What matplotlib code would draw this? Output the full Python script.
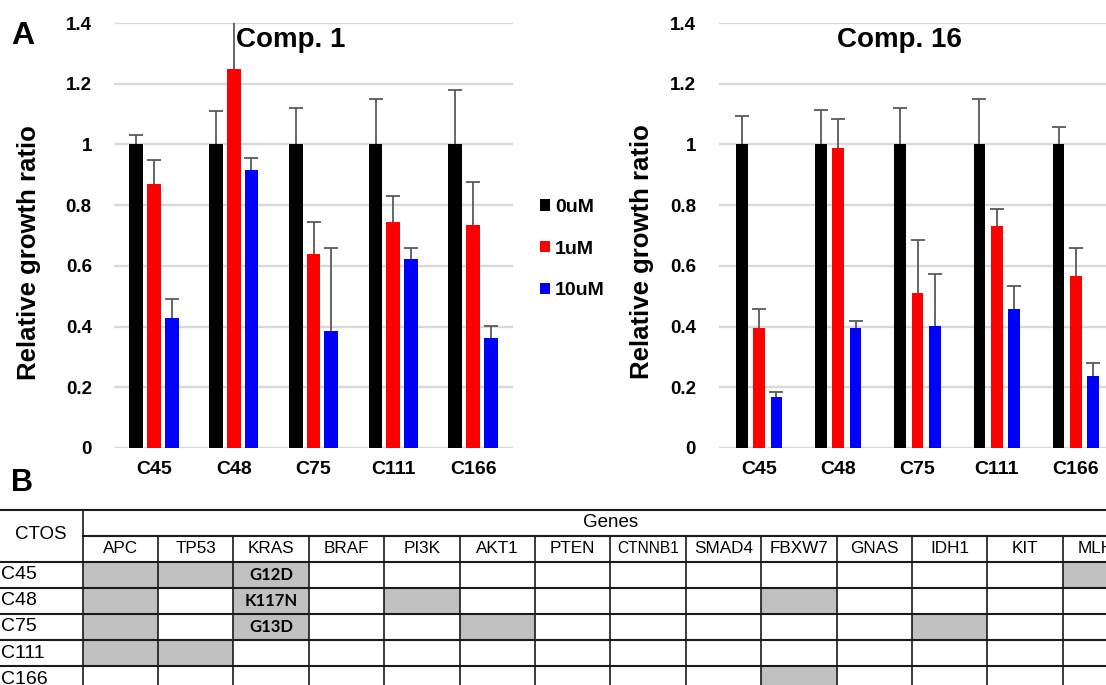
import matplotlib
matplotlib.use('Agg')
import matplotlib.pyplot as plt
from matplotlib.patches import Rectangle
import numpy as np

plt.rcParams['font.family'] = ['Liberation Sans', 'DejaVu Sans']

# ---- data ----
cell_lines = ['C45', 'C48', 'C75', 'C111', 'C166']
doses = ['0uM', '1uM', '10uM']
dose_colors = ['#000000', '#ff0000', '#0000ff']

comp1_vals = [[1.0, 1.0, 1.0, 1.0, 1.0],
              [0.87, 1.25, 0.64, 0.745, 0.735],
              [0.427, 0.916, 0.385, 0.621, 0.361]]
comp1_err = [[0.03, 0.11, 0.12, 0.15, 0.18],
             [0.08, 0.20, 0.105, 0.085, 0.14],
             [0.063, 0.04, 0.273, 0.037, 0.042]]

comp16_vals = [[1.0, 1.0, 1.0, 1.0, 1.0],
               [0.394, 0.987, 0.51, 0.731, 0.566],
               [0.167, 0.394, 0.403, 0.457, 0.237]]
comp16_err = [[0.095, 0.115, 0.12, 0.15, 0.058],
              [0.064, 0.096, 0.175, 0.055, 0.093],
              [0.018, 0.024, 0.17, 0.078, 0.042]]

yticks = [0, 0.2, 0.4, 0.6, 0.8, 1.0, 1.2, 1.4]
yticklabels = ['0', '0.2', '0.4', '0.6', '0.8', '1', '1.2', '1.4']

genes = ['APC', 'TP53', 'KRAS', 'BRAF', 'PI3K', 'AKT1', 'PTEN', 'CTNNB1',
         'SMAD4', 'FBXW7', 'GNAS', 'IDH1', 'KIT', 'MLH1']
mutated = {'C45': ['APC', 'TP53', 'KRAS', 'MLH1'],
           'C48': ['APC', 'KRAS', 'PI3K', 'FBXW7'],
           'C75': ['APC', 'KRAS', 'AKT1', 'IDH1'],
           'C111': ['APC', 'TP53'],
           'C166': ['FBXW7']}
kras_variant = {'C45': 'G12D', 'C48': 'K117N', 'C75': 'G13D'}

W, H = 1106, 685
fig = plt.figure(figsize=(W / 100, H / 100), dpi=100)


def bar_panel(rect, vals, errs, title, title_x, bar_w, pitch, tickpad):
    ax = fig.add_axes(rect)
    x = np.arange(len(cell_lines))
    handles = []
    for k in range(len(doses)):
        b = ax.bar(x + (k - 1) * pitch, vals[k], bar_w, color=dose_colors[k],
                   zorder=3, label=doses[k])
        eb = ax.errorbar(x + (k - 1) * pitch, vals[k], yerr=[np.zeros(len(x)), errs[k]],
                         fmt='none', ecolor='#595959', elinewidth=1.3, capsize=5,
                         capthick=1.3, zorder=4)
        eb[1][0].set_visible(False)  # plus direction only, no lower cap
        handles.append(b)
    ax.set_xlim(-0.5, 4.5)
    ax.set_ylim(0, 1.4)
    ax.set_yticks(yticks)
    ax.set_yticklabels(yticklabels, fontsize=13.5, fontweight='bold')
    ax.set_xticks(x)
    ax.set_xticklabels(cell_lines, fontsize=14, fontweight='bold')
    ax.tick_params(axis='y', length=0, pad=tickpad)
    ax.tick_params(axis='x', length=0, pad=9)
    ax.grid(axis='y', color='#d9d9d9', linewidth=1.7, zorder=0)
    ax.set_axisbelow(True)
    for s in ax.spines.values():
        s.set_visible(False)
    ax.set_ylabel('Relative growth ratio', fontsize=18.5, fontweight='bold')
    ax.text(title_x, 0.96, title, transform=ax.transAxes, ha='center', va='center',
            fontsize=20, fontweight='bold', zorder=5)
    return ax, handles


ax1, bars = bar_panel([114 / W, 237 / H, 399 / W, 425 / H], comp1_vals, comp1_err,
                      'Comp. 1', 0.444, 0.175, 0.223, 16)
ax1.yaxis.set_label_coords(-0.183, 0.46)

ax2, _ = bar_panel([719.5 / W, 237 / H, 396 / W, 425 / H], comp16_vals, comp16_err,
                   'Comp. 16', 0.455, 0.148, 0.218, 17)
ax2.yaxis.set_label_coords(-0.165, 0.462)

fig.legend(bars, doses, loc='center left', bbox_to_anchor=(540 / W, 1 - 249 / H),
           frameon=False, borderpad=0, borderaxespad=0, handlelength=0.52,
           handleheight=0.52, handletextpad=0.26, labelspacing=1.27,
           prop={'size': 14, 'weight': 'bold'})

fig.text(23 / W, 1 - 36 / H, 'A', fontsize=23, fontweight='bold', ha='center', va='center')
fig.text(22 / W, 1 - 483 / H, 'B', fontsize=22, fontweight='bold', ha='center', va='center')

# ---- table (B) ----
col_w, row_h, ctos_w = 75.4, 26.1, 82.6 / 75.4
tab_top = 509.5
axt = fig.add_axes([0, 0, 1, (H - tab_top) / H])
axt.set_xlim(-ctos_w, (W - 82.6) / col_w)
axt.set_ylim((H - tab_top) / row_h, 0)
axt.axis('off')

n_rows = len(cell_lines) + 2
for j, line in enumerate(cell_lines):
    for g in mutated[line]:
        gi = genes.index(g)
        axt.add_patch(Rectangle((gi, j + 2), 1, 1, facecolor='#c0c0c0',
                                edgecolor='none', zorder=1))
    axt.text(-ctos_w + 0.01, j + 2.5, line, fontsize=14, ha='left', va='center')
    if line in kras_variant:
        axt.text(genes.index('KRAS') + 0.5, j + 2.5, kras_variant[line],
                 fontsize=12, fontweight='bold', family='Lato',
                 ha='center', va='center', zorder=3)

for gi, g in enumerate(genes):
    axt.text(gi + 0.5, 1.5, g, fontsize=11.2 if len(g) > 5 else 12.3,
             ha='center', va='center')
axt.text(len(genes) / 2, 0.5, 'Genes', fontsize=13.5, ha='center', va='center')
axt.text(-ctos_w / 2, 0.95, 'CTOS', fontsize=13.5, ha='center', va='center')

line_c = '#1a1a1a'
for yl in [0] + list(range(2, n_rows + 1)):
    axt.plot([-ctos_w, len(genes)], [yl, yl], color=line_c, lw=1.5, zorder=2,
             clip_on=False)
axt.plot([0, len(genes)], [1, 1], color=line_c, lw=1.5, zorder=2)
axt.plot([0, 0], [0, n_rows + 0.5], color=line_c, lw=1.2, zorder=2)
for gi in range(1, len(genes)):
    axt.plot([gi, gi], [1, n_rows + 0.5], color=line_c, lw=1.2, zorder=2)

plt.savefig('out.png', dpi=100)
